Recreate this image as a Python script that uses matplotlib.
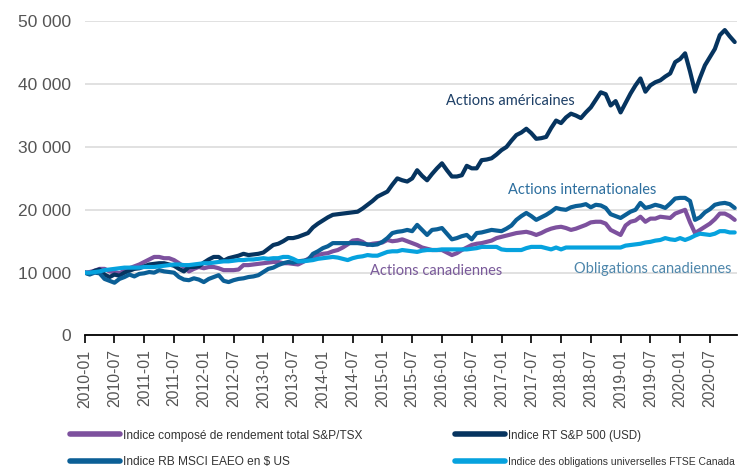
import matplotlib
matplotlib.use('Agg')
import matplotlib.pyplot as plt

# --- DATA (valeur de 10 000 $ investis en janvier 2010, mensuel) ---
years = list(range(2010, 2021))
months = [f"{y}-{m:02d}" for y in years for m in range(1, 13)]

tsx = [10000, 10100, 10300, 10600, 10600, 10200, 10100, 9900, 10300, 10700, 11000, 11300,
       11700, 12100, 12500, 12500, 12300, 12300, 12000, 11500, 10900, 10200, 10600, 10900,
       10700, 10900, 10900, 10700, 10400, 10400, 10400, 10500, 11200, 11200, 11300, 11400,
       11500, 11600, 11700, 11700, 11500, 11500, 11400, 11300, 11700, 12200, 12500, 12800,
       13000, 13100, 13400, 13600, 14000, 14500, 15100, 15200, 14900, 14400, 14600, 14700,
       14800, 15200, 15000, 15100, 15300, 15000, 14700, 14400, 14000, 13800, 13600, 13600,
       13600, 13200, 12800, 13100, 13600, 14000, 14400, 14600, 14700, 14900, 15100, 15500,
       15700, 15900, 16100, 16300, 16400, 16500, 16300, 16000, 16300, 16700, 17000, 17200,
       17300, 17100, 16800, 17000, 17300, 17600, 18000, 18100, 18100, 17800, 16800, 16400,
       16000, 17500, 18100, 18300, 18900, 18100, 18600, 18600, 18900, 18800, 18700, 19400,
       19700, 20000, 18000, 16300, 16800, 17300, 17800, 18500, 19400, 19400, 19000, 18400]

sp500 = [10000, 9800, 10300, 10500, 9700, 9300, 9700, 9500, 10000, 10300, 10600, 10700,
         11000, 11300, 11400, 11500, 11500, 11300, 11100, 10600, 10200, 10900, 10900, 11000,
         11600, 12100, 12500, 12500, 11900, 12300, 12500, 12700, 13000, 12800, 12900, 13000,
         13200, 13800, 14400, 14600, 15000, 15500, 15500, 15700, 16000, 16300, 17200, 17800,
         18300, 18800, 19200, 19300, 19400, 19500, 19600, 19700, 20200, 20800, 21400, 22100,
         22500, 22900, 24000, 25000, 24700, 24500, 25000, 26300, 25400, 24700, 25700, 26600,
         27400, 26300, 25300, 25300, 25500, 27000, 26600, 26600, 27900, 28000, 28200, 28800,
         29500, 30000, 31000, 31900, 32300, 32900, 32200, 31300, 31400, 31600, 33000, 34200,
         33800, 34700, 35300, 35000, 34600, 35500, 36300, 37500, 38700, 38400, 36600, 37300,
         35500, 37000, 38500, 39800, 40900, 38800, 39800, 40300, 40600, 41200, 41700, 43500,
         44000, 44900, 42000, 38800, 41000, 43000, 44300, 45600, 47800, 48600, 47600, 46700]

eafe = [10000, 9700, 10000, 9900, 9000, 8700, 8400, 9000, 9300, 9700, 9400, 9800,
        9900, 10100, 10000, 10400, 10200, 10100, 10000, 9300, 8900, 8800, 9100, 8900,
        8500, 9000, 9300, 9600, 8700, 8500, 8800, 9000, 9100, 9300, 9400, 9600,
        10100, 10600, 10800, 11200, 11500, 11700, 11600, 11800, 11900, 12000, 13000, 13400,
        13900, 14200, 14700, 14700, 14700, 14700, 14700, 14700, 14600, 14500, 14400, 14500,
        14900, 15500, 16300, 16500, 16600, 16800, 16600, 17600, 16800, 16000, 16800, 16900,
        17100, 16200, 15300, 15500, 15800, 16000, 15300, 16300, 16400, 16600, 16800, 16700,
        16600, 17000, 17500, 18400, 19000, 19500, 19000, 18400, 18800, 19200, 19700, 20300,
        20100, 20000, 20400, 20600, 20700, 20900, 20400, 20800, 20700, 20300, 19300, 19000,
        18700, 19200, 19700, 20000, 21100, 20300, 20500, 20800, 20600, 20300, 21000, 21800,
        21900, 21900, 21400, 18400, 18800, 19600, 20100, 20800, 21000, 21100, 20900, 20300]

ftse = [10000, 10000, 10100, 10200, 10400, 10500, 10600, 10700, 10800, 10800, 10800, 10800,
        10900, 10900, 10900, 11000, 11100, 11200, 11300, 11300, 11200, 11200, 11300, 11400,
        11500, 11500, 11600, 11700, 11800, 11800, 11900, 12000, 12000, 12100, 12100, 12200,
        12300, 12200, 12300, 12300, 12500, 12500, 12200, 11800, 11800, 11900, 12000, 12200,
        12300, 12400, 12500, 12400, 12200, 12000, 12300, 12500, 12600, 12800, 12700, 12700,
        13000, 13300, 13400, 13400, 13600, 13500, 13400, 13300, 13500, 13600, 13600, 13600,
        13700, 13700, 13700, 13700, 13700, 13700, 13800, 13900, 14100, 14100, 14100, 14100,
        13700, 13600, 13600, 13600, 13600, 13900, 14100, 14100, 14100, 13900, 13700, 14000,
        13700, 14000, 14000, 14000, 14000, 14000, 14000, 14000, 14000, 14000, 14000, 14000,
        14000, 14300, 14400, 14500, 14600, 14800, 14900, 15100, 15200, 15500, 15300, 15200,
        15500, 15200, 15500, 15900, 16200, 16100, 16000, 16200, 16600, 16600, 16400, 16400]

series_names = ["Indice composé de rendement total S&P/TSX",
                "Indice RB MSCI EAEO en $ US",
                "Indice RT S&P 500 (USD)",
                "Indice des obligations universelles FTSE Canada"]

# --- STYLE ---
C_TSX = '#7d519e'
C_SP = '#06345f'
C_EAFE = '#0b5f96'
C_FTSE = '#06a2de'
TICK_FONT = ['Liberation Sans', 'DejaVu Sans']
LABEL_FONT = ['Lato', 'DejaVu Sans']

fig = plt.figure(figsize=(7.53, 4.71), dpi=100)
ax = fig.add_axes([0.1125, 0.2877, 0.8665, 0.6671])

x = list(range(len(months)))
lw = 3.0
l_tsx, = ax.plot(x, tsx, color=C_TSX, lw=lw, solid_capstyle='round', zorder=3)
l_sp, = ax.plot(x, sp500, color=C_SP, lw=lw, solid_capstyle='round', zorder=4)
l_eafe, = ax.plot(x, eafe, color=C_EAFE, lw=lw, solid_capstyle='round', zorder=5)
l_ftse, = ax.plot(x, ftse, color=C_FTSE, lw=lw, solid_capstyle='round', zorder=6)

ax.set_xlim(0, 131.5)
ax.set_ylim(0, 50000)

ticks = x[::6]
ax.set_xticks(ticks)
ax.set_xticklabels([months[i] for i in ticks], rotation=90, family=TICK_FONT,
                   fontsize=11.3, color='#555555')
ax.set_yticks(range(0, 50001, 10000))
ax.set_yticklabels(['0'] + [f"{v // 1000} 000" for v in range(10000, 50001, 10000)],
                   family=TICK_FONT, fontsize=12.5, color='#555555')
ax.tick_params(axis='x', length=6, width=1.2, color='black', pad=4)
ax.tick_params(axis='y', length=0, pad=10)

for s in ['top', 'right', 'left']:
    ax.spines[s].set_visible(False)
ax.spines['bottom'].set_linewidth(1.3)
ax.spines['bottom'].set_zorder(7)
ax.yaxis.grid(True, color='#dcdcdc', linewidth=1.2)
ax.set_axisbelow(True)

# --- Etiquettes des courbes ---
ax.text(85.7, 37300, "Actions américaines", color='#1d3f66', fontsize=10.5,
        family=LABEL_FONT, ha='center', va='center')
ax.text(100.3, 23150, "Actions internationales", color='#2c6e9e', fontsize=10.5,
        family=LABEL_FONT, ha='center', va='center')
ax.text(70.8, 10250, "Actions canadiennes", color='#7a5a9a', fontsize=10.5,
        family=LABEL_FONT, ha='center', va='center', zorder=8)
ax.text(114.5, 10550, "Obligations canadiennes", color='#4d86ab', fontsize=10.5,
        family=LABEL_FONT, ha='center', va='center', zorder=8)

# --- Legende (deux colonnes placees a la main) ---
leg_kw = dict(loc='upper left', frameon=False, borderpad=0, borderaxespad=0,
              prop={'family': TICK_FONT, 'size': 8.6}, labelcolor='#333333',
              handlelength=4.2, handletextpad=0.25, labelspacing=1.25)
leg1 = fig.legend([l_tsx, l_eafe], series_names[:2],
                  bbox_to_anchor=(0.093, 0.088), **leg_kw)
leg2 = fig.legend([l_sp, l_ftse], series_names[2:],
                  bbox_to_anchor=(0.604, 0.088), **leg_kw)
for leg in (leg1, leg2):
    for h in leg.legend_handles:
        h.set_linewidth(4)
# le texte long de la 2e colonne doit tenir dans la largeur
leg2.get_texts()[0].set_fontsize(8.3)
leg2.get_texts()[1].set_fontsize(7.5)

fig.savefig('out.png', dpi=100)
